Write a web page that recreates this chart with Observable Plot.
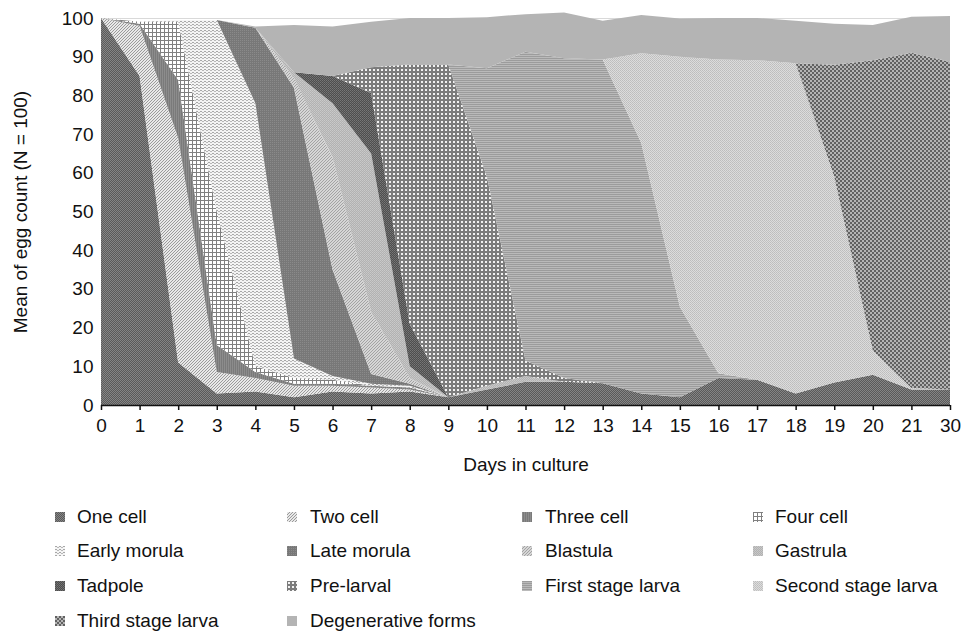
<!DOCTYPE html>
<html>
<head>
<meta charset="utf-8">
<script src="https://cdn.jsdelivr.net/npm/d3@7"></script>
<script src="https://cdn.jsdelivr.net/npm/@observablehq/plot@0.6"></script>
<style>
  html, body { margin: 0; padding: 0; background: #fff; }
  body { width: 963px; height: 635px; position: relative; overflow: hidden; font-family: "Liberation Sans", Arial, sans-serif; }
  #chart { position: absolute; left: 0; top: 0; }
  #legend { position: absolute; left: 0; top: 490px; width: 963px; height: 145px; }
  .item { position: absolute; font-size: 19px; color: #111; line-height: 22px; white-space: nowrap; }
  .item svg { position: absolute; top: 6px; }
  .item span { position: absolute; }
</style>
</head>
<body>
<svg width="0" height="0" style="position:absolute">
  <defs>
    <pattern id="pat0" width="2" height="2" patternUnits="userSpaceOnUse"><rect width="2" height="2" fill="#5a5a5a"/><rect width="1" height="1" fill="#858585"/><rect x="1" y="1" width="1" height="1" fill="#858585"/></pattern>
    <pattern id="pat1" width="3" height="3" patternUnits="userSpaceOnUse"><rect width="3" height="3" fill="#e8e8e8"/><path d="M-1,1 L1,-1 M0,3 L3,0 M2,4 L4,2" stroke="#9a9a9a" stroke-width="1"/></pattern>
    <pattern id="pat2" width="2" height="2" patternUnits="userSpaceOnUse"><rect width="2" height="2" fill="#7a7a7a"/><rect width="1" height="2" fill="#8c8c8c"/></pattern>
    <pattern id="pat3" width="4" height="4" patternUnits="userSpaceOnUse"><rect width="4" height="4" fill="#ffffff"/><rect width="4" height="1" fill="#808080"/><rect width="1" height="4" fill="#808080"/></pattern>
    <pattern id="pat4" width="4" height="3" patternUnits="userSpaceOnUse"><rect width="4" height="3" fill="#f4f4f4"/><rect x="0" y="0" width="2" height="1" fill="#a8a8a8"/><rect x="2" y="1" width="2" height="1" fill="#b8b8b8"/></pattern>
    <pattern id="pat5" width="2" height="2" patternUnits="userSpaceOnUse"><rect width="2" height="2" fill="#787878"/><rect width="1" height="1" fill="#8a8a8a"/></pattern>
    <pattern id="pat6" width="3" height="3" patternUnits="userSpaceOnUse"><rect width="3" height="3" fill="#d6d6d6"/><path d="M-1,1 L1,-1 M0,3 L3,0 M2,4 L4,2" stroke="#a3a3a3" stroke-width="1"/></pattern>
    <pattern id="pat7" width="2" height="2" patternUnits="userSpaceOnUse"><rect width="2" height="2" fill="#b2b2b2"/><rect width="1" height="1" fill="#cacaca"/><rect x="1" y="1" width="1" height="1" fill="#c4c4c4"/></pattern>
    <pattern id="pat8" width="2" height="2" patternUnits="userSpaceOnUse"><rect width="2" height="2" fill="#4e4e4e"/><rect width="1" height="1" fill="#777777"/><rect x="1" y="1" width="1" height="1" fill="#6c6c6c"/></pattern>
    <pattern id="pat9" width="4" height="4" patternUnits="userSpaceOnUse"><rect width="4" height="4" fill="#7c7c7c"/><rect x="1" y="1" width="2" height="2" fill="#f2f2f2"/></pattern>
    <pattern id="pat10" width="2" height="2" patternUnits="userSpaceOnUse"><rect width="2" height="2" fill="#bababa"/><rect width="2" height="1" fill="#9c9c9c"/></pattern>
    <pattern id="pat11" width="2" height="2" patternUnits="userSpaceOnUse"><rect width="2" height="2" fill="#dcdcdc"/><rect width="1" height="1" fill="#bdbdbd"/><rect x="1" y="1" width="1" height="1" fill="#c2c2c2"/></pattern>
    <pattern id="pat12" width="4" height="4" patternUnits="userSpaceOnUse"><rect width="4" height="4" fill="#b4b4b4"/><rect width="2" height="2" fill="#616161"/><rect x="2" y="2" width="2" height="2" fill="#616161"/></pattern>
    <pattern id="pat13" width="2" height="2" patternUnits="userSpaceOnUse"><rect width="2" height="2" fill="#b4b4b4"/></pattern>
  </defs>
</svg>
<div id="chart"></div>
<div id="legend"></div>
<script>
// ---- data ----
const dayLabels = ["0","1","2","3","4","5","6","7","8","9","10","11","12","13","14","15","16","17","18","19","20","21","30"];
const stages = ["One cell","Two cell","Three cell","Four cell","Early morula","Late morula","Blastula","Gastrula","Tadpole","Pre-larval","First stage larva","Second stage larva","Third stage larva","Degenerative forms"];

const oneCell      = [100, 85, 11, 3, 3.5, 2, 3.5, 3, 3.5, 2, 4, 6, 6, 5.6, 3, 2, 7, 6.5, 3, 5.8, 7.8, 4, 4];
const twoCell      = [0, 13, 58, 5.5, 3.5, 3, 1.5, 1.5, 0.5, 0, 0, 0, 0, 0, 0, 0, 0, 0, 0, 0, 0, 0, 0];
const threeCell    = [0, 0.5, 15, 7, 1.5, 0.5, 0.5, 0.5, 0.5, 0, 0, 0, 0, 0, 0, 0, 0, 0, 0, 0, 0, 0, 0];
const fourCell     = [0, 0.5, 15, 34.5, 1.5, 1.5, 1, 0, 0, 0, 0, 0, 0, 0, 0, 0, 0, 0, 0, 0, 0, 0, 0];
const earlyMorula  = [0, 0, 0.5, 49.5, 68, 5, 1, 0.5, 0.5, 0, 0, 0, 0, 0, 0, 0, 0, 0, 0, 0, 0, 0, 0];
const lateMorula   = [0, 0, 0, 0, 19.5, 70, 27.5, 2.5, 0.5, 0, 0, 0, 0, 0, 0, 0, 0, 0, 0, 0, 0, 0, 0];
const blastula     = [0, 0, 0, 0, 0, 2.5, 29, 16, 1.5, 0, 0, 0, 0, 0, 0, 0, 0, 0, 0, 0, 0, 0, 0];
const gastrula     = [0, 0, 0, 0, 0, 1.5, 14, 41, 3, 0, 1, 1.5, 0, 0, 0, 0, 0, 0, 0, 0, 0, 0, 0];
const tadpole      = [0, 0, 0, 0, 0, 0, 7, 15.6, 11, 0, 0, 0, 0, 0, 0, 0, 0, 0, 0, 0, 0, 0, 0];
const preLarval    = [0, 0, 0, 0, 0, 0, 0, 6.7, 67, 86, 54, 4, 1, 0, 0, 0, 0, 0, 0, 0, 0, 0, 0];
const firstStage   = [0, 0, 0, 0, 0, 0, 0, 0, 0, 0, 28, 79.8, 82.6, 83.7, 64.7, 23.4, 1.2, 0, 0, 0, 0, 0, 0];
const secondStage  = [0, 0, 0, 0, 0, 0, 0, 0, 0, 0, 0, 0, 0, 0, 23.2, 64.6, 81.1, 82.6, 85.3, 53.2, 6.2, 0.4, 0];
const thirdStage   = [0, 0, 0, 0, 0, 0, 0, 0, 0, 0, 0, 0, 0, 0, 0, 0, 0, 0, 0, 28.9, 75.1, 86.6, 84.7];
const degenerative = [0, 0, 0, 0, 0.3, 12.2, 12.8, 11.7, 12, 12, 13.2, 9.7, 11.8, 10, 9.9, 9.9, 10.7, 10.9, 11, 10.6, 9.1, 9.3, 11.8];

const yTicks = [0, 10, 20, 30, 40, 50, 60, 70, 80, 90, 100];

const series = [oneCell, twoCell, threeCell, fourCell, earlyMorula, lateMorula, blastula, gastrula, tadpole, preLarval, firstStage, secondStage, thirdStage, degenerative];
const patterns = stages.map((s, k) => `url(#pat${k})`);
const rows = stages.flatMap((stage, k) => series[k].map((v, i) => ({i, stage, v})));
const xIdx = dayLabels.map((d, i) => i);

const chart = Plot.plot({
  width: 963,
  height: 490,
  marginLeft: 101,
  marginRight: 13,
  marginTop: 18,
  marginBottom: 85,
  style: {fontFamily: "'Liberation Sans', Arial, sans-serif", fontSize: "19px", color: "#111", background: "transparent", overflow: "visible"},
  x: {domain: [0, xIdx.length - 1]},
  y: {domain: [0, 100]},
  color: {type: "ordinal", domain: stages, range: patterns},
  marks: [
    Plot.ruleY(yTicks, {stroke: "#d9d9d9", strokeWidth: 1}),
    Plot.areaY(rows, Plot.stackY({x: "i", y: "v", z: "stage", fill: "stage", order: stages})),
    Plot.ruleY([0], {stroke: "#111", strokeWidth: 1.5}),
    Plot.axisX({ticks: xIdx, tickFormat: i => dayLabels[i], tickSize: 5, tickPadding: 8, strokeWidth: 1.5, label: null}),
    Plot.axisY({ticks: yTicks, tickSize: 0, tickPadding: 8, label: null}),
    Plot.text(["Days in culture"], {frameAnchor: "bottom", dy: 65, fontSize: 19, fill: "#111"}),
    Plot.text(["Mean of egg count (N = 100)"], {frameAnchor: "left", dx: -81, rotate: -90, textAnchor: "middle", fontSize: 19, fill: "#111"})
  ]
});
document.getElementById("chart").appendChild(chart);

// ---- legend ----
const legend = document.getElementById("legend");
const swatchX = [55, 287, 522, 753];
const textX = [77, 310, 545, 775];
const rowY = [16, 50, 85, 120];
stages.forEach((s, k) => {
  const col = k % 4, row = Math.floor(k / 4);
  const div = document.createElement("div");
  div.className = "item";
  div.style.left = "0px";
  div.style.top = rowY[row] + "px";
  div.innerHTML = `<svg width="10" height="10" style="left:${swatchX[col]}px"><rect width="10" height="10" fill="${patterns[k]}"/></svg><span style="left:${textX[col]}px">${s}</span>`;
  legend.appendChild(div);
});
</script>
</body>
</html>
